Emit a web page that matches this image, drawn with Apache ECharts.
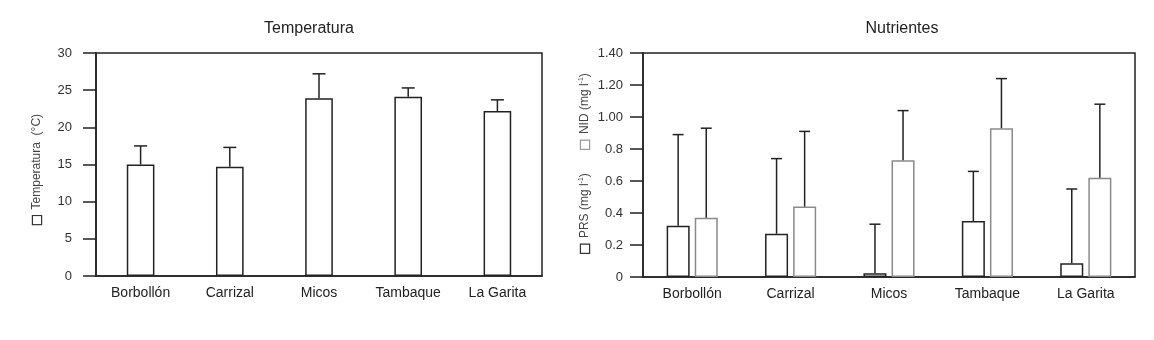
<!DOCTYPE html>
<html>
<head>
<meta charset="utf-8">
<script src="https://cdn.jsdelivr.net/npm/echarts@6/dist/echarts.min.js"></script>
<style>
  html, body { margin: 0; padding: 0; background: #fff; }
  #chart { width: 1154px; height: 340px; }
</style>
</head>
<body>
<div id="chart"></div>
<script>
// sites
var categories = ['Borbollón', 'Carrizal', 'Micos', 'Tambaque', 'La Garita']

// temperatura (°C), mean and mean + error
var tempMean = [15.0, 14.7, 23.9, 24.1, 22.2]
var tempHigh = [17.5, 17.3, 27.2, 25.3, 23.7]

// nutrientes (mg l-1)
var prsMean = [0.32, 0.27, 0.023, 0.35, 0.086]
var prsHigh = [0.89, 0.74, 0.33, 0.66, 0.55]
var nidMean = [0.37, 0.44, 0.73, 0.93, 0.62]
var nidHigh = [0.93, 0.91, 1.04, 1.24, 1.08]

var nutTickLabels = ['0', '0.2', '0.4', '0.6', '0.8', '1.00', '1.20', '1.40']

var FONT = '"Liberation Sans", Arial, sans-serif'
var INK = '#222'

var chart = echarts.init(document.getElementById('chart'))

// error bar (upper whisker only) drawn on top of a bar
function errorBar(shift, cap) {
  return function (params, api) {
    var cat = api.value(0)
    var bw = api.size([1, 0])[0]
    var top = api.coord([cat, api.value(2)])
    var base = api.coord([cat, api.value(1)])
    var x = top[0] + shift * bw
    return {
      type: 'group',
      children: [
        { type: 'line', shape: { x1: x, y1: base[1], x2: x, y2: top[1] }, style: { stroke: INK, lineWidth: 1.5 } },
        { type: 'line', shape: { x1: x - cap / 2, y1: top[1], x2: x + cap / 2, y2: top[1] }, style: { stroke: INK, lineWidth: 1.5 } }
      ]
    }
  }
}

function errData(mean, high) {
  return mean.map(function (m, i) { return [i, m, high[i]] })
}

var xAxisBase = {
  type: 'category',
  data: categories,
  axisLine: { lineStyle: { color: INK, width: 1.5 } },
  axisTick: { show: false },
  axisLabel: { color: INK, fontSize: 14, fontFamily: FONT, margin: 10 }
}

var yAxisBase = {
  type: 'value',
  splitLine: { show: false },
  axisLine: { show: true, lineStyle: { color: INK, width: 1.5 } },
  axisTick: { show: true, inside: false, length: 13, lineStyle: { color: INK, width: 1.5 } },
  axisLabel: { color: '#333', fontSize: 13, fontFamily: FONT }
}

var richName = {
  sq: { width: 8, height: 8, borderColor: '#333', borderWidth: 1.2, backgroundColor: '#fff' },
  sqg: { width: 8, height: 8, borderColor: '#999', borderWidth: 1.2, backgroundColor: '#fff' },
  t: { fontSize: 12, fontFamily: FONT, fill: '#444', color: '#444' },
  sup: { fontSize: 7, fontFamily: FONT, color: '#444', padding: [0, 0, 7, 0] }
}

function axisName(x, y, text) {
  return {
    type: 'text',
    x: x,
    y: y,
    rotation: Math.PI / 2,
    style: {
      text: text,
      rich: richName,
      fontSize: 12,
      fontFamily: FONT,
      fill: '#444',
      align: 'center',
      verticalAlign: 'middle'
    }
  }
}

var option = {
  backgroundColor: '#fff',
  animation: false,
  title: [
    { text: 'Temperatura', left: 304, top: 16, textAlign: 'center',
      textStyle: { fontSize: 16, fontWeight: 'normal', color: INK, fontFamily: FONT } },
    { text: 'Nutrientes', left: 897, top: 16, textAlign: 'center',
      textStyle: { fontSize: 16, fontWeight: 'normal', color: INK, fontFamily: FONT } }
  ],
  grid: [
    { left: 96, right: 612, top: 53, bottom: 64, show: true, borderColor: INK, borderWidth: 1.5 },
    { left: 643, right: 19, top: 53, bottom: 63, show: true, borderColor: INK, borderWidth: 1.5 }
  ],
  xAxis: [
    Object.assign({}, xAxisBase, { gridIndex: 0 }),
    Object.assign({}, xAxisBase, { gridIndex: 1 })
  ],
  yAxis: [
    echarts.util.merge(echarts.util.clone(yAxisBase), {
      gridIndex: 0, min: 0, max: 30, interval: 5,
      axisLabel: { margin: 24 }
    }),
    echarts.util.merge(echarts.util.clone(yAxisBase), {
      gridIndex: 1, min: 0, max: 1.4, interval: 0.2,
      axisLabel: {
        margin: 20,
        formatter: function (v) { return nutTickLabels[Math.round(v / 0.2)] }
      }
    })
  ],
  graphic: [
    axisName(37, 169, '{sq|}  Temperatura  (°C)'),
    axisName(585, 213, '{sq|}  PRS (mg l{sup|-1})'),
    axisName(585, 111, '{sqg|}  NID (mg l{sup|-1})')
  ],
  series: [
    {
      name: 'Temperatura', type: 'bar', xAxisIndex: 0, yAxisIndex: 0,
      data: tempMean, barWidth: '31%',
      itemStyle: { color: '#fff', borderColor: INK, borderWidth: 1.5 }
    },
    {
      type: 'custom', xAxisIndex: 0, yAxisIndex: 0, z: 3,
      renderItem: errorBar(0, 13), data: errData(tempMean, tempHigh)
    },
    {
      name: 'PRS', type: 'bar', xAxisIndex: 1, yAxisIndex: 1,
      data: prsMean, barWidth: '23.4%', barGap: '22%',
      itemStyle: { color: '#fff', borderColor: INK, borderWidth: 1.5 }
    },
    {
      name: 'NID', type: 'bar', xAxisIndex: 1, yAxisIndex: 1,
      data: nidMean, barWidth: '23.4%', barGap: '22%',
      itemStyle: { color: '#fff', borderColor: '#8a8a8a', borderWidth: 1.5 }
    },
    {
      type: 'custom', xAxisIndex: 1, yAxisIndex: 1, z: 3,
      renderItem: errorBar(-0.1427, 11), data: errData(prsMean, prsHigh)
    },
    {
      type: 'custom', xAxisIndex: 1, yAxisIndex: 1, z: 3,
      renderItem: errorBar(0.1427, 11), data: errData(nidMean, nidHigh)
    }
  ]
}

chart.setOption(option)
</script>
</body>
</html>
